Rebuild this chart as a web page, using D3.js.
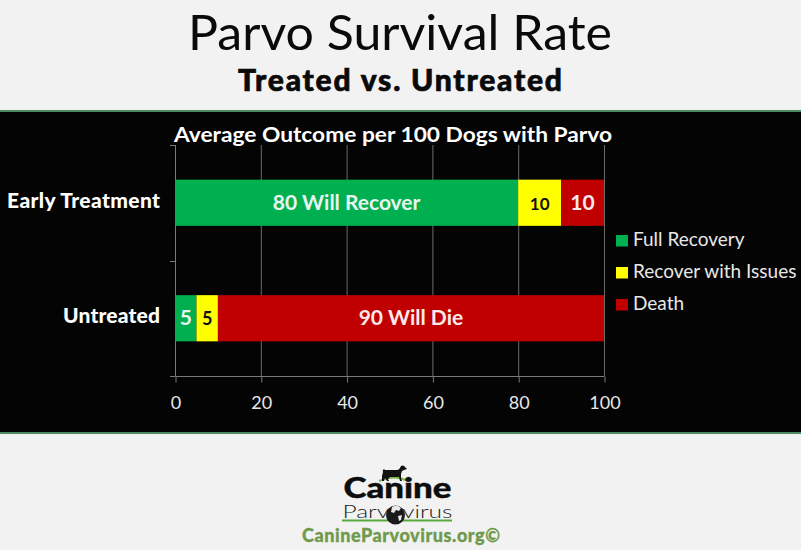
<!DOCTYPE html>
<html><head><meta charset="utf-8">
<script src="https://cdnjs.cloudflare.com/ajax/libs/d3/7.8.5/d3.min.js"></script>
<style>html,body{margin:0;padding:0;background:#f2f2f2;overflow:hidden}svg{display:block}text{font-family:Lato,"Open Sans",sans-serif}</style>
</head><body><svg id="c" width="801" height="550"></svg>
<script>
const categories=["Early Treatment","Untreated"];
const categoryWidths=[153,97];
const seriesNames=["Full Recovery","Recover with Issues","Death"];
const fullRecovery=[80,5];
const recoverWithIssues=[10,5];
const death=[10,90];
const barLabels=[["80 Will Recover","10","10"],["5","5","90 Will Die"]];
const xTicks=[0,20,40,60,80,100];
const colors=["#00b050","#ffff00","#c00000"];
const labelColors=["#e8f5ee","#111","#fbeaea"];
const labelSizes=[[21,17,21],[21,18,21]];

const svg=d3.select("#c");
svg.append("rect").attr("width",801).attr("height",550).attr("fill","#f2f2f2");
svg.append("rect").attr("x",0).attr("y",112).attr("width",801).attr("height",321).attr("fill","#040404");
svg.append("rect").attr("x",0).attr("y",110).attr("width",801).attr("height",2).attr("fill","#4d8a63");
svg.append("rect").attr("x",0).attr("y",432).attr("width",801).attr("height",2).attr("fill","#4d8a63");

svg.append("text").attr("x",400).attr("y",50).attr("text-anchor","middle").attr("font-size",49).attr("font-weight",400).attr("fill","#0a0a0a").attr("textLength",424).attr("lengthAdjust","spacingAndGlyphs").text("Parvo Survival Rate");
svg.append("text").attr("x",400).attr("y",91).attr("text-anchor","middle").attr("font-size",30).attr("font-weight",900).attr("fill","#0a0a0a").attr("stroke","#0a0a0a").attr("stroke-width",0.7).attr("textLength",324).attr("lengthAdjust","spacing").text("Treated vs. Untreated");
svg.append("text").attr("x",393).attr("y",142).attr("text-anchor","middle").attr("font-size",21).attr("font-weight",700).attr("fill","#fff").attr("textLength",438).attr("lengthAdjust","spacingAndGlyphs").text("Average Outcome per 100 Dogs with Parvo");

const x=d3.scaleLinear().domain([0,100]).range([175,604]);
const y=d3.scaleBand().domain(categories).range([145,376]).paddingInner(0.6).paddingOuter(0.3);

svg.append("g").selectAll("line").data(xTicks).join("line")
 .attr("x1",d=>x(d)+.5).attr("x2",d=>x(d)+.5).attr("y1",145).attr("y2",376).attr("stroke","#6b6b6b").attr("stroke-width",1);

const gx=svg.append("g").attr("transform","translate(0.5,376.5)").call(d3.axisBottom(x).tickValues(xTicks).tickSize(6).tickPadding(14));
gx.selectAll("path,line").attr("stroke","#7a7a7a");
gx.select("path").attr("d","M175,0H604");
gx.selectAll("text").attr("fill","#e8e8e8").attr("font-size",18).style("font-family","Lato");

const step=y.step();
svg.append("g").selectAll("line").data([145,145+step,145+2*step]).join("line")
 .attr("x1",170).attr("x2",175.5).attr("y1",d=>Math.round(d)+.5).attr("y2",d=>Math.round(d)+.5).attr("stroke","#7a7a7a");
svg.append("line").attr("x1",175.5).attr("x2",175.5).attr("y1",145).attr("y2",376).attr("stroke","#7a7a7a");

svg.append("g").selectAll("text").data(categories).join("text")
 .attr("x",160).attr("y",d=>y(d)+y.bandwidth()/2+5).attr("text-anchor","end")
 .attr("font-size",21).attr("font-weight",900).attr("fill","#fff")
 .attr("textLength",(d,i)=>categoryWidths[i]).attr("lengthAdjust","spacing").text(d=>d);

const table=categories.map((c,i)=>({category:c,"Full Recovery":fullRecovery[i],"Recover with Issues":recoverWithIssues[i],"Death":death[i]}));
const stacked=d3.stack().keys(seriesNames)(table);
const gs=svg.append("g").selectAll("g").data(stacked).join("g");
gs.selectAll("rect").data((s,si)=>s.map((d,i)=>({d,i,si}))).join("rect")
 .attr("x",o=>x(o.d[0])).attr("width",o=>x(o.d[1])-x(o.d[0]))
 .attr("y",o=>y(categories[o.i])).attr("height",y.bandwidth()).attr("fill",o=>colors[o.si]);
gs.selectAll("text").data((s,si)=>s.map((d,i)=>({d,i,si}))).join("text")
 .attr("x",o=>(x(o.d[0])+x(o.d[1]))/2).attr("y",o=>y(categories[o.i])+y.bandwidth()/2+7)
 .attr("text-anchor","middle").attr("font-weight",700)
 .attr("font-size",o=>labelSizes[o.i][o.si]).attr("fill",o=>labelColors[o.si])
 .text(o=>barLabels[o.i][o.si]);

const leg=svg.append("g").selectAll("g").data(seriesNames).join("g").attr("transform",(d,i)=>`translate(616,${235+i*32})`);
leg.append("rect").attr("width",12).attr("height",11.5).attr("fill",(d,i)=>colors[i]);
leg.append("text").attr("x",17).attr("y",11).attr("font-size",19).attr("fill","#e8e8e8").text(d=>d);

const logo=svg.append("g");
logo.append("path").attr("fill","none").attr("stroke","#7ab648").attr("stroke-width",2).attr("d","M379,481 Q394,474 408,481");
logo.append("path").attr("fill","#111").attr("d","M383,472 q-1,-2 1,-3 l1,1 12,0 q2,0 3,-2 l1,-2 q2,-1 3,0 l2,2 1,1 -3,1 -2,1 -1,3 0,4 1,3 -2,0 -1,-4 -9,0 -2,2 1,2 -2,0 -2,-3 -1,3 -2,0 0,-5 z");
logo.append("text").attr("x",397.5).attr("y",498).attr("text-anchor","middle").attr("font-size",29).attr("font-weight",900).attr("fill","#0d0d0d").attr("stroke","#0d0d0d").attr("stroke-width",0.4).attr("textLength",108).attr("lengthAdjust","spacingAndGlyphs").text("Canine");
logo.append("text").attr("x",397.5).attr("y",518).attr("text-anchor","middle").attr("font-size",18).attr("font-weight",300).attr("fill","#222").attr("textLength",110).attr("lengthAdjust","spacingAndGlyphs").text("Parvovirus");
logo.append("rect").attr("x",342).attr("y",519.5).attr("width",110).attr("height",2).attr("fill","#58a83c");
logo.append("circle").attr("cx",395.5).attr("cy",515).attr("r",9.5).attr("fill","#1a1a1a");
logo.append("path").attr("fill","#e8e8e8").attr("d","M392,507 q5,-3 9,1 l-2,3 -3,-1 -2,3 -3,-1 z M398,516 l4,-1 -1,5 -2,1 z");
logo.append("text").attr("x",401).attr("y",542).attr("text-anchor","middle").attr("font-size",18).attr("font-weight",900).attr("fill","#6f9a4b").attr("stroke","#6f9a4b").attr("stroke-width",0.3).attr("textLength",198).attr("lengthAdjust","spacing").text("CanineParvovirus.org©");
</script></body></html>
